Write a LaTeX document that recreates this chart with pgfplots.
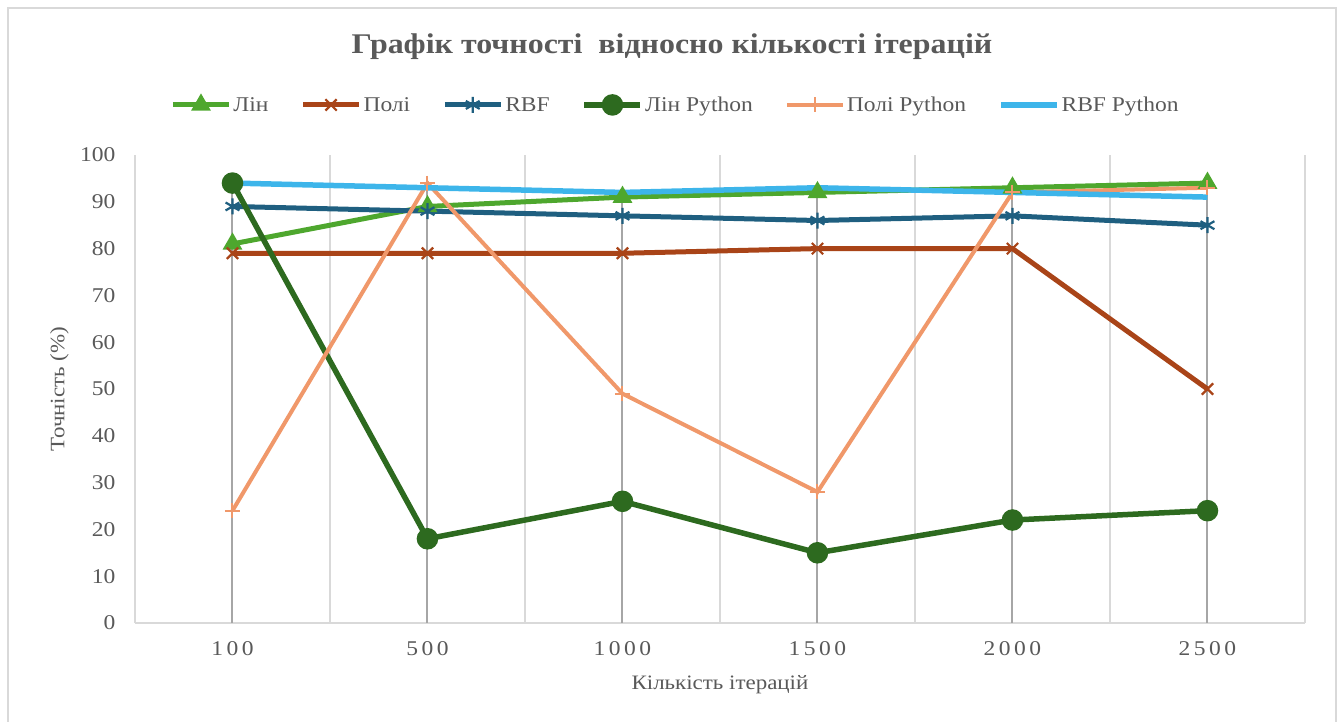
\documentclass[border=0pt]{standalone}
\usepackage{pgfplots}
\pgfplotsset{compat=1.18}
\usepackage{fontspec}
\setmainfont{Liberation Serif}[FakeStretch=1.12]

\definecolor{textgray}{HTML}{595959}
\definecolor{gridgray}{HTML}{D9D9D9}
\definecolor{dropgray}{HTML}{A6A6A6}
\definecolor{framegray}{HTML}{D9D9D9}
\definecolor{clin}{HTML}{4EA72E}
\definecolor{cpoly}{HTML}{A94418}
\definecolor{crbf}{HTML}{1F5F80}
\definecolor{clinpy}{HTML}{2D6A1F}
\definecolor{cpolypy}{HTML}{F0986A}
\definecolor{crbfpy}{HTML}{3DB5EA}

\begin{document}
\begin{tikzpicture}
\path[use as bounding box] (0pt,0pt) rectangle (1341pt,722pt);
% chart frame
\draw[framegray, line width=2.5pt] (8pt,-10pt) -- (8pt,714pt) -- (1336pt,714pt) -- (1336pt,-10pt);
% title
\node[font=\fontsize{28.5}{34}\selectfont\bfseries, text=textgray] at (672pt,675pt)
  {Графік точності\ \ відносно кількості ітерацій};

\begin{axis}[
  at={(135pt,99pt)}, anchor=south west,
  scale only axis, width=1170pt, height=468pt,
  xmin=-0.5, xmax=5.5, ymin=0, ymax=100,
  xtick={0,1,2,3,4,5},
  xticklabels={1\,0\,0, 5\,0\,0, 1\,0\,0\,0, 1\,5\,0\,0, 2\,0\,0\,0, 2\,5\,0\,0},
  ytick={0,10,...,100},
  minor xtick={-0.5,0.5,1.5,2.5,3.5,4.5,5.5},
  xminorgrids,
  minor grid style={gridgray, line width=1.8pt},
  axis x line*=bottom, axis y line*=left,
  x axis line style={gridgray, line width=1.8pt, -},
  y axis line style={draw=none},
  major tick length=0pt, minor tick length=0pt,
  /pgf/number format/assume math mode=true,
  tick label style={font=\fontsize{21}{24}\selectfont, text=textgray},
  yticklabel shift=16pt,
  xticklabel shift=15pt,
  xlabel={Кількість ітерацій},
  ylabel={Точність (\%)},
  label style={font=\fontsize{20.5}{24}\selectfont, text=textgray},
  xlabel style={at={(axis description cs:0.5,-0.1325)}, anchor=center},
  ylabel style={at={(axis description cs:-0.0645,0.5)}, anchor=center},
  clip=false,
  legend columns=6,
  legend style={at={(axis description cs:0.462,1.107)}, anchor=center,
    draw=none, fill=none, font=\fontsize{21}{24}\selectfont, text=textgray,
    inner sep=0pt,
    /tikz/every even column/.append style={column sep=30pt}},
  legend image code/.code={\draw[mark repeat=2,mark phase=2]
    plot coordinates {(0pt,0pt)(28pt,0pt)(56pt,0pt)};},
]
% drop lines from the highest value in each category
\addplot[ycomb, dropgray, line width=2pt, forget plot] coordinates {
  (0,94) (1,94) (2,92) (3,93) (4,93) (5,94)};

\addplot[clin, line width=5pt, mark=triangle*, mark size=6.5pt,
  mark options={solid}] coordinates {
  (0,81) (1,89) (2,91) (3,92) (4,93) (5,94)};
\addlegendentry{Лін}
\addplot[cpoly, line width=5pt, mark=x, mark size=8pt,
  mark options={line width=2.2pt}] coordinates {
  (0,79) (1,79) (2,79) (3,80) (4,80) (5,50)};
\addlegendentry{Полі}
\addplot[crbf, line width=5pt, mark=asterisk, mark size=8pt,
  mark options={line width=2.2pt}] coordinates {
  (0,89) (1,88) (2,87) (3,86) (4,87) (5,85)};
\addlegendentry{RBF}
\addplot[clinpy, line width=5.5pt, mark=*, mark size=8pt] coordinates {
  (0,94) (1,18) (2,26) (3,15) (4,22) (5,24)};
\addlegendentry{Лін Python}
\addplot[cpolypy, line width=4pt, mark=+, mark size=7.5pt,
  mark options={line width=2pt}] coordinates {
  (0,24) (1,94) (2,49) (3,28) (4,92) (5,93)};
\addlegendentry{Полі Python}
\addplot[crbfpy, line width=5.5pt] coordinates {
  (0,94) (1,93) (2,92) (3,93) (4,92) (5,91)};
\addlegendentry{RBF Python}
\end{axis}
\end{tikzpicture}
\end{document}
